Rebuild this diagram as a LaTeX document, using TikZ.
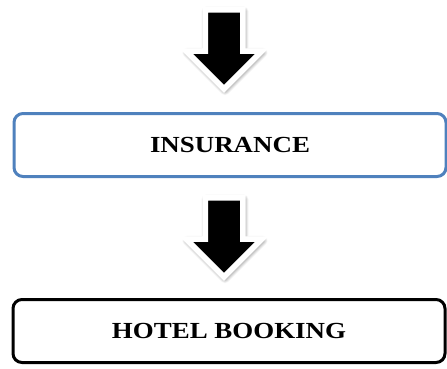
\documentclass[tikz,border=0pt]{standalone}
\usepackage{fontspec}
\setmainfont{Liberation Serif}
\usetikzlibrary{shapes.arrows}
\usetikzlibrary{shadows.blur}

\definecolor{boxblue}{RGB}{79,129,189}
\newcommand{\widecaps}[1]{\scalebox{1.17}[1]{#1}}

\tikzset{
  stepbox/.style={draw=black, rounded corners=9pt, line width=3pt,
    minimum width=432pt, minimum height=63pt,
    font=\bfseries\fontsize{23}{23}\selectfont},
  downarrow/.style={single arrow, rotate=-90, fill=black, draw=white,
    line width=5.5pt, inner sep=0pt, inner ysep=16pt,
    minimum height=79pt, single arrow head extend=19pt,
    blur shadow={shadow xshift=1pt, shadow yshift=-1.5pt,
      shadow blur radius=5pt, shadow blur steps=10, shadow opacity=75}}
}

\begin{document}
\begin{tikzpicture}[x=1pt,y=-1pt]
\useasboundingbox (0,0) rectangle (447,368);
\node[name=arrow_1, downarrow] at (224,40) {};
\node[name=insurance, stepbox, draw=boxblue] at (230,145) {\widecaps{INSURANCE}};
\node[name=arrow_2, downarrow] at (224,228) {};
\node[name=hotel, stepbox] at (229,331) {\widecaps{HOTEL BOOKING}};
\end{tikzpicture}
\end{document}
